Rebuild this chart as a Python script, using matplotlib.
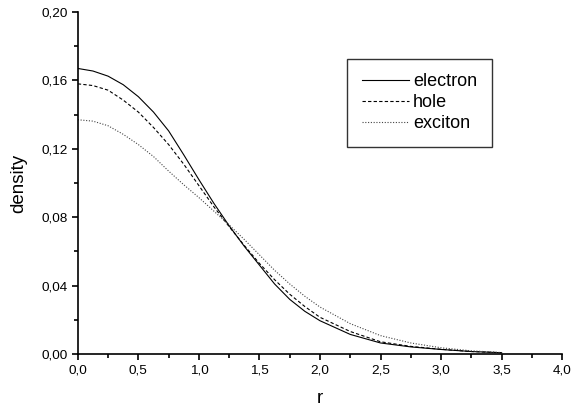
import matplotlib
matplotlib.use("Agg")
import matplotlib.pyplot as plt
from matplotlib.ticker import MultipleLocator, FuncFormatter

plt.rcParams['font.family'] = ['Liberation Sans', 'DejaVu Sans']

# values
r = [0, 0.125, 0.25, 0.375, 0.5, 0.625, 0.75, 0.875, 1.0, 1.125, 1.25, 1.375,
     1.5, 1.625, 1.75, 1.875, 2.0, 2.25, 2.5, 2.75, 3.0, 3.25, 3.5]
electron = [0.167, 0.1655, 0.1625, 0.1575, 0.1505, 0.1415, 0.1305, 0.1165, 0.102, 0.088,
            0.075, 0.063, 0.052, 0.041, 0.032, 0.025, 0.0195, 0.0115, 0.0065, 0.0042,
            0.0027, 0.0015, 0.0008]
hole = [0.158, 0.157, 0.1543, 0.1485, 0.1415, 0.1325, 0.1225, 0.111, 0.0985, 0.086,
        0.0745, 0.0635, 0.053, 0.0435, 0.035, 0.0278, 0.0215, 0.0132, 0.0072, 0.0045,
        0.0028, 0.0015, 0.0008]
exciton = [0.137, 0.1362, 0.1335, 0.1285, 0.1225, 0.1155, 0.107, 0.099, 0.0915, 0.0835,
           0.0755, 0.067, 0.058, 0.049, 0.041, 0.0338, 0.0275, 0.0178, 0.0108, 0.0065,
           0.0037, 0.0019, 0.0009]

fig = plt.figure(figsize=(5.85, 4.07), dpi=100)
ax = fig.add_axes([0.133, 0.130, 0.828, 0.8405])

ax.plot(r, electron, color='black', lw=0.8, label='electron')
ax.plot(r, hole, color='black', lw=0.8, dashes=(3, 2), label='hole')
ax.plot(r, exciton, color='#444444', lw=0.8, dashes=(1, 1.5), label='exciton')

ax.set_xlim(0, 4)
ax.set_ylim(0, 0.20)
ax.xaxis.set_major_locator(MultipleLocator(0.5))
ax.xaxis.set_minor_locator(MultipleLocator(0.25))
ax.yaxis.set_major_locator(MultipleLocator(0.04))
ax.yaxis.set_minor_locator(MultipleLocator(0.02))
ax.xaxis.set_major_formatter(FuncFormatter(lambda v, p: f"{v:.1f}".replace('.', ',')))
ax.yaxis.set_major_formatter(FuncFormatter(lambda v, p: f"{v:.2f}".replace('.', ',')))

ax.spines['top'].set_visible(False)
ax.spines['right'].set_visible(False)
ax.spines['left'].set_linewidth(1.2)
ax.spines['bottom'].set_linewidth(1.2)
ax.tick_params(which='both', direction='out', width=1.2, labelsize=9.7)
ax.tick_params(which='major', length=4)
ax.tick_params(which='minor', length=3)

ax.set_xlabel('r', fontsize=13.5, labelpad=10)
ax.set_ylabel('density', fontsize=13.5, labelpad=10)

leg = ax.legend(loc='upper left', bbox_to_anchor=(0.556, 0.8626), fontsize=13,
                frameon=True, fancybox=False, handlelength=2.6, handletextpad=0.25,
                borderpad=0.8, labelspacing=0.22, borderaxespad=0)
leg.get_frame().set_edgecolor('black')
leg.get_frame().set_linewidth(1.0)

fig.savefig('out.png', dpi=100)
